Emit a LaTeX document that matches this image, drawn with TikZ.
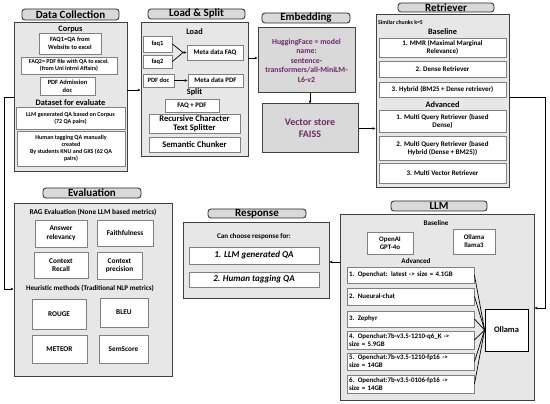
\documentclass[tikz,border=0pt]{standalone}
\usepackage{fontspec}
\setmainfont{Carlito}
\usetikzlibrary{arrows.meta,calc}
\definecolor{outerfill}{HTML}{E7E7E7}
\definecolor{outerdraw}{HTML}{404040}
\definecolor{innerdraw}{HTML}{808080}
\definecolor{pillfill}{HTML}{D9D9D9}
\definecolor{embfill}{HTML}{D9D9D9}
\definecolor{purpletxt}{HTML}{6E2A6A}
\tikzset{
  outerbox/.style={draw=outerdraw,fill=outerfill,line width=1pt,inner sep=0pt},
  innerbox/.style={draw=innerdraw,fill=white,line width=0.9pt,inner sep=1pt,align=center,font=\fontsize{6}{7}\selectfont\bfseries},
  fs/.style={font=\fontsize{#1}{8}\selectfont\bfseries},
  pill/.style={draw=black!85,fill=pillfill,line width=0.8pt,rounded corners=3pt,inner sep=0pt,font=\fontsize{11}{12}\selectfont\bfseries},
  embbox/.style={draw=outerdraw,fill=embfill,line width=1pt,inner sep=1pt,align=center,text=purpletxt},
  head/.style={font=\fontsize{8.3}{9}\selectfont\bfseries,inner sep=0pt},
  small/.style={font=\fontsize{7.1}{8}\selectfont\bfseries,inner sep=0pt,align=center},
  arr/.style={draw=black,line width=0.8pt,-{Stealth[length=3pt,width=2.6pt]}},
  plainline/.style={draw=black,line width=0.7pt},
}
\begin{document}
\begin{tikzpicture}[x=1pt,y=-1pt]
\useasboundingbox (0,0) rectangle (550,404);

% ---------------- Data Collection ----------------
\node[pill,minimum width=97pt,minimum height=11pt] (dcpill) at (70.5,14.5) {Data Collection};
\node[outerbox,minimum width=113pt,minimum height=149pt] (corpus) at (70.5,97.5) {};
\node[head] (corpushead) at (70.5,29) {Corpus};
\node[innerbox,minimum width=62pt,minimum height=21pt,font=\fontsize{6.4}{7.6}\selectfont\bfseries] (faqone) at (70,43.5) {FAQ1=QA from\\Website to excel};
\node[innerbox,minimum width=96pt,minimum height=17pt] (faqtwo) at (69,65.5) {FAQ2= PDF file with QA to excel.\\(from Uni Intrnl Affairs)};
\node[innerbox,minimum width=55pt,minimum height=18pt,font=\fontsize{6.4}{7.6}\selectfont\bfseries] (pdfadm) at (67.5,86) {PDF Admission\\doc};
\node[head] (dshead) at (70.5,103) {Dataset for evaluate};
\node[innerbox,minimum width=109pt,minimum height=22pt] (llmgen) at (70.5,118) {LLM generated QA based on Corpus\\(72 QA pairs)};
\node[innerbox,minimum width=108pt,minimum height=35pt] (human) at (71,148.5) {Human tagging QA manually\\created\\By students KNU and GKS (62 QA\\pairs)};

% ---------------- Load & Split ----------------
\node[pill,minimum width=97pt,minimum height=10pt] (lspill) at (196.5,14) {Load \& Split};
\node[outerbox,minimum width=107pt,minimum height=134pt] (load) at (194.5,90) {};
\node[head] (loadhead) at (194.5,32) {Load};
\node[innerbox,minimum width=29pt,minimum height=16pt,fs=6.5] (faqa) at (157.5,44) {faq1};
\node[innerbox,minimum width=29pt,minimum height=13pt,fs=6.5] (faqb) at (157.5,61.5) {faq2};
\node[innerbox,minimum width=56pt,minimum height=15pt,fs=6.9] (metafaq) at (215,52.5) {Meta data FAQ};
\coordinate (conv) at (183,52.5);
\draw[plainline] (faqa.east) -- (conv);
\draw[plainline] (faqb.east) -- (conv);
\draw[arr] (conv) -- (metafaq.west);
\node[innerbox,minimum width=31pt,minimum height=13pt,fs=6.5] (pdfdoc) at (158.5,80.5) {PDF doc};
\node[innerbox,minimum width=55pt,minimum height=13pt,fs=6.9] (metapdf) at (215.5,80.5) {Meta data PDF};
\draw[arr] (pdfdoc.east) -- (metapdf.west);
\node[head] (splithead) at (194.5,92) {Split};
\node[innerbox,minimum width=54pt,minimum height=13pt,fs=6.9] (faqpdf) at (192,105.5) {FAQ + PDF};
\node[innerbox,minimum width=91pt,minimum height=19pt,font=\fontsize{8.6}{9}\selectfont\bfseries] (recur) at (194.5,123.5) {Recursive Character\\Text Splitter};
\node[innerbox,minimum width=91pt,minimum height=15pt,font=\fontsize{8.6}{9}\selectfont\bfseries] (semantic) at (194.5,144.5) {Semantic Chunker};

% ---------------- Embedding ----------------
\node[pill,minimum width=88pt,minimum height=10pt] (embpill) at (306,18) {Embedding};
\node[embbox,minimum width=97pt,minimum height=65pt,font=\fontsize{7.8}{9.5}\selectfont\bfseries] (hf) at (306.5,60.5) {HuggingFace = model\\name:\\sentence-\\transformers/all-MiniLM-\\L6-v2};
\node[embbox,minimum width=96pt,minimum height=49pt,font=\fontsize{10}{12}\selectfont\bfseries] (vs) at (310,128.5) {Vector store\\FAISS};

% ---------------- Retriever ----------------
\node[pill,minimum width=96pt,minimum height=9pt] (retpill) at (446,7.5) {Retriever};
\node[outerbox,minimum width=133pt,minimum height=173pt] (ret) at (442.5,101.5) {};
\node[font=\fontsize{5.8}{6}\selectfont\bfseries,inner sep=0pt,anchor=west] (simk) at (378,22) {Similar chunks k=5};
\node[head] (rbase) at (442.5,32) {Baseline};
\tikzset{rbox/.style={innerbox,minimum width=127pt,font=\fontsize{7}{8}\selectfont\bfseries}}
\node[rbox,minimum height=19pt] (mmr) at (442.5,47.5) {1. MMR (Maximal Marginal\\Relevance)};
\node[rbox,minimum height=16pt] (dense) at (442.5,69) {2. Dense Retriever};
\node[rbox,minimum height=15pt] (hybrid) at (442.5,89.5) {3. Hybrid (BM25 + Dense retriever)};
\node[head] (radv) at (442.5,105) {Advanced};
\node[rbox,minimum height=22pt] (mqone) at (442.5,121) {1. Multi Query Retriever (based\\Dense)};
\node[rbox,minimum height=24pt] (mqtwo) at (442.5,148) {2. Multi Query Retriever (based\\Hybrid (Dense + BM25))};
\node[rbox,minimum height=20pt] (mv) at (442.5,173) {3. Multi Vector Retriever};

% ---------------- LLM ----------------
\node[pill,minimum width=96pt,minimum height=10pt] (llmpill) at (439,206) {LLM};
\node[outerbox,minimum width=194pt,minimum height=185pt] (llm) at (437,307.5) {};
\node[small] (lbase) at (436,223) {Baseline};
\node[innerbox,minimum width=46pt,minimum height=22pt,fs=6.9] (openai) at (390,243) {OpenAI\\GPT-4o};
\node[innerbox,minimum width=42pt,minimum height=25pt,fs=6.9] (llama) at (474,241.5) {Ollama\\llama3};
\node[small] (ladv) at (416,261) {Advanced};
\tikzset{lbox/.style={innerbox,minimum width=127pt,align=left,text width=123pt,font=\fontsize{6.9}{8}\selectfont\bfseries}}
\node[lbox,minimum height=16pt] (bone) at (410.5,275) {1. Openchat: latest -> size = 4.1GB};
\node[lbox,minimum height=17pt] (btwo) at (410.5,296.5) {2. Nueural-chat};
\node[lbox,minimum height=16pt] (bthree) at (410.5,319) {3. Zephyr};
\node[lbox,minimum height=18pt] (bfour) at (410.5,340) {4. Openchat:7b-v3.5-1210-q6\_K ->\\size = 5.9GB};
\node[lbox,minimum height=17pt] (bfive) at (410.5,361.5) {5. Openchat:7b-v3.5-1210-fp16 ->\\size = 14GB};
\node[lbox,minimum height=18pt] (bsix) at (410.5,384) {6. Openchat:7b-v3.5-0106-fp16 ->\\size = 14GB};
\node[innerbox,draw=black,line width=0.8pt,minimum width=43pt,minimum height=42pt,font=\fontsize{8.4}{9}\selectfont\bfseries] (ollama) at (506.5,330) {Ollama};
\foreach \b in {bone,btwo,bthree,bfour,bfive,bsix}{
  \draw[plainline] (\b.east) -- (ollama.west);
}

% ---------------- Response ----------------
\node[pill,minimum width=98pt,minimum height=9pt] (resppill) at (257,213.5) {Response};
\node[outerbox,minimum width=146pt,minimum height=75pt] (resp) at (256,260.5) {};
\node[small] (resphead) at (254,237) {Can choose response for:};
\node[innerbox,minimum width=130pt,minimum height=17pt,font=\fontsize{9}{10}\selectfont\bfseries\itshape] (rone) at (254,255.5) {1. LLM generated QA};
\node[innerbox,minimum width=130pt,minimum height=15pt,font=\fontsize{9}{10}\selectfont\bfseries\itshape] (rtwo) at (254,279.5) {2. Human tagging QA};

% ---------------- Evaluation ----------------
\node[pill,minimum width=98pt,minimum height=10pt] (evalpill) at (92,193) {Evaluation};
\node[outerbox,minimum width=158pt,minimum height=172pt] (eval) at (93,290) {};
\node[small,fs=7.3] (raghead) at (93,212) {RAG Evaluation (None LLM based metrics)};
\tikzset{ebox/.style={innerbox,font=\fontsize{7.3}{8.6}\selectfont\bfseries}}
\node[ebox,minimum width=52pt,minimum height=27pt] (ansrel) at (61,233.5) {Answer\\relevancy};
\node[ebox,minimum width=56pt,minimum height=26pt] (faith) at (125,233) {Faithfulness};
\node[ebox,minimum width=54pt,minimum height=26pt] (crecall) at (61,265) {Context\\Recall};
\node[ebox,minimum width=45pt,minimum height=27pt] (cprec) at (119.5,265.5) {Context\\precision};
\node[small,fs=7.1] (heurhead) at (90,288) {Heuristic methods (Traditional NLP metrics)};
\node[ebox,minimum width=54pt,minimum height=30pt] (rouge) at (59,314) {ROUGE};
\node[ebox,minimum width=48pt,minimum height=29pt] (bleu) at (124,312.5) {BLEU};
\node[ebox,minimum width=55pt,minimum height=28pt] (meteor) at (59.5,349) {METEOR};
\node[ebox,minimum width=49pt,minimum height=28pt] (semscore) at (123.5,349) {SemScore};

% ---------------- Connectors ----------------
\coordinate (cload) at (127,90);
\draw[arr] (cload) -- (cload -| load.west);
\coordinate (lemb) at (248,58);
\draw[arr] (lemb) -- (lemb -| hf.west);
\draw[arr] (vs.north |- hf.south) -- (vs.north);
\draw[arr] (vs.east) -- (vs.east -| ret.west);
\coordinate (rcorner) at (545,308);
\draw[arr] (hybrid.south -| ret.east) -| (rcorner) -- (rcorner -| llm.east);
\coordinate (lresp) at (340,262);
\draw[arr] (lresp) -- (lresp -| resp.east);
\coordinate (fbtop) at (4,97);
\coordinate (fbbot) at (4,289);
\draw[arr] (corpus.west |- fbtop) -- (fbtop) -- (fbbot) -- (fbbot -| eval.west);
\end{tikzpicture}
\end{document}
